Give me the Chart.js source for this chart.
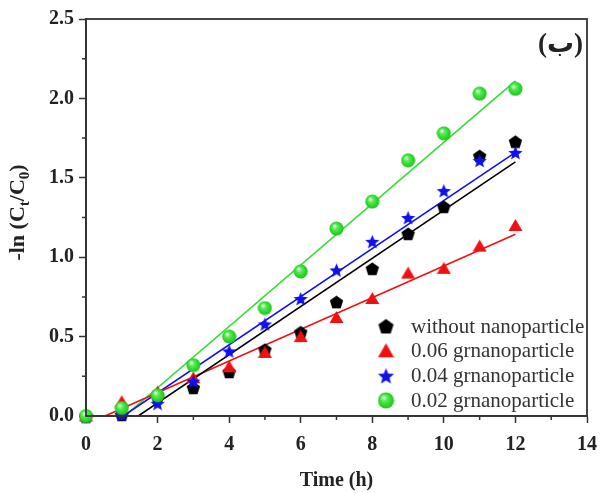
<!DOCTYPE html>
<html>
<head>
<meta charset="utf-8">
<script src="https://cdn.jsdelivr.net/npm/chart.js@4/dist/chart.umd.min.js"></script>
<style>
    html, body { margin: 0; padding: 0; background: #fff; }
    #kinetics { display: block; }
</style>
</head>
<body>
<canvas id="kinetics" width="603" height="493"></canvas>
<script>
// Time axis (h) and -ln(Ct/C0) for each run
const times = [0, 1, 2, 3, 4, 5, 6, 7, 8, 9, 10, 11, 12];
const withoutNano = [0, 0.01, 0.12, 0.18, 0.28, 0.42, 0.53, 0.72, 0.93, 1.15, 1.32, 1.64, 1.73];
const nano006 = [0, 0.09, 0.15, 0.24, 0.31, 0.40, 0.50, 0.62, 0.74, 0.90, 0.93, 1.07, 1.20];
const nano004 = [0, 0.01, 0.08, 0.22, 0.41, 0.58, 0.74, 0.92, 1.10, 1.25, 1.42, 1.61, 1.66];
const nano002 = [0, 0.05, 0.13, 0.32, 0.50, 0.68, 0.91, 1.18, 1.35, 1.61, 1.78, 2.03, 2.06];
const seriesLabels = ['without nanoparticle', '0.06 grnanoparticle', '0.04 grnanoparticle', '0.02 grnanoparticle'];

// Linear fits: where each line leaves y = 0, and its value at t = 12
const fitStartX = [1.46, 0.53, 1.04, 1.08];
const fitEndX = 12;
const fitEndY = [1.60, 1.145, 1.66, 2.11];

// Tick values
const xTickValues = [0, 2, 4, 6, 8, 10, 12, 14];
const xMinorTicks = [1, 3, 5, 7, 9, 11, 13];
const yTickValues = [0, 0.5, 1.0, 1.5, 2.0, 2.5];
const yMinorTicks = [0.25, 0.75, 1.25, 1.75, 2.25];

const AXIS = '#333';
const SERIF = "'Liberation Serif', 'Times New Roman', serif";

// Marker sprites, drawn once on small canvases
function makeMarker(kind, size) {
    const c = document.createElement('canvas');
    c.width = size; c.height = size;
    const g = c.getContext('2d');
    const m = size / 2;
    g.beginPath();
    if (kind === 'pentagon') {
        const r = size * 0.47;
        for (let i = 0; i < 5; i++) {
            const a = -Math.PI / 2 + i * 2 * Math.PI / 5;
            g.lineTo(m + r * Math.cos(a), m + 1 + r * Math.sin(a));
        }
        g.closePath();
        g.fillStyle = '#000';
        g.fill();
    } else if (kind === 'star') {
        const ro = size * 0.5, ri = size * 0.22;
        for (let i = 0; i < 10; i++) {
            const a = -Math.PI / 2 + i * Math.PI / 5;
            const r = i % 2 ? ri : ro;
            g.lineTo(m + r * Math.cos(a), m + 1 + r * Math.sin(a));
        }
        g.closePath();
        g.fillStyle = '#1010ee';
        g.fill();
    } else if (kind === 'triangle') {
        g.moveTo(m, 1);
        g.lineTo(size - 0.5, size - 2);
        g.lineTo(0.5, size - 2);
        g.closePath();
        g.fillStyle = '#f01010';
        g.fill();
    } else {
        const grad = g.createRadialGradient(m - size * 0.15, m - size * 0.18, 0.5, m, m, m);
        grad.addColorStop(0, '#f0fff0');
        grad.addColorStop(0.3, '#55f052');
        grad.addColorStop(1, '#14c014');
        g.arc(m, m, m - 0.5, 0, Math.PI * 2);
        g.fillStyle = grad;
        g.fill();
    }
    return c;
}

const markerKinds = ['pentagon', 'triangle', 'star', 'sphere'];
const plotMarkers = markerKinds.map(k => makeMarker(k, 15));
const legendMarkers = markerKinds.map(k => makeMarker(k, 17));
const lineColors = ['#000000', '#f01010', '#1010ee', '#33dd33'];
const seriesValues = [withoutNano, nano006, nano004, nano002];

const pointSets = seriesValues.map((vals, i) => ({
    type: 'scatter',
    label: seriesLabels[i],
    data: times.map((t, j) => ({ x: t, y: vals[j] })),
    pointStyle: plotMarkers[i],
    pointRadius: 8,
    clip: false,
    order: 4 - i
}));

const fitSets = fitStartX.map((x0, i) => ({
    type: 'line',
    label: 'fit ' + seriesLabels[i],
    data: [{ x: x0, y: 0 }, { x: fitEndX, y: fitEndY[i] }],
    borderColor: lineColors[i],
    borderWidth: 1.6,
    pointRadius: 0,
    fill: false,
    order: 10
}));

// Box frame, minor ticks, rotated y title with subscripts, legend and panel tag
const decorations = {
    id: 'decorations',
    afterDraw(chart) {
        const { ctx, chartArea: a, scales: { x, y } } = chart;
        ctx.save();
        ctx.strokeStyle = AXIS;
        ctx.lineWidth = 1.8;
        ctx.strokeRect(a.left, a.top, a.right - a.left, a.bottom - a.top);

        ctx.lineWidth = 1.5;
        ctx.beginPath();
        xMinorTicks.forEach(v => {
            const px = x.getPixelForValue(v);
            ctx.moveTo(px, a.bottom); ctx.lineTo(px, a.bottom + 4);
        });
        yMinorTicks.forEach(v => {
            const py = y.getPixelForValue(v);
            ctx.moveTo(a.left, py); ctx.lineTo(a.left - 4, py);
        });
        ctx.stroke();

        // -ln (Ct/C0)
        ctx.fillStyle = '#222';
        ctx.textBaseline = 'alphabetic';
        const big = 'bold 22px ' + SERIF, small = 'bold 15px ' + SERIF;
        const parts = [['-ln (C', big, 0], ['t', small, 5], ['/C', big, 0], ['0', small, 5], [')', big, 0]];
        let total = 0;
        parts.forEach(p => { ctx.font = p[1]; total += ctx.measureText(p[0]).width; });
        ctx.translate(24, (a.top + a.bottom) / 2 - 5);
        ctx.rotate(-Math.PI / 2);
        let cx = -total / 2;
        parts.forEach(p => {
            ctx.font = p[1];
            ctx.fillText(p[0], cx, p[2]);
            cx += ctx.measureText(p[0]).width;
        });
        ctx.setTransform(1, 0, 0, 1, 0, 0);

        // Legend inside the plot, lower right
        ctx.font = '21px ' + SERIF;
        ctx.fillStyle = '#333';
        ctx.textBaseline = 'middle';
        ctx.textAlign = 'left';
        seriesLabels.forEach((lbl, i) => {
            const ly = a.bottom - 90 + i * 24.8;
            const mk = legendMarkers[i];
            ctx.drawImage(mk, a.right - 201 - mk.width / 2, ly - mk.height / 2);
            ctx.fillText(lbl, a.right - 176, ly + 1);
        });

        // Panel tag
        ctx.font = 'bold 27px ' + SERIF + ", 'DejaVu Sans'";
        ctx.fillStyle = '#222';
        ctx.textAlign = 'right';
        ctx.fillText('(ب)', a.right - 4, a.top + 26);
        ctx.restore();
    }
};

new Chart(document.getElementById('kinetics'), {
    type: 'scatter',
    data: { datasets: [...pointSets, ...fitSets] },
    options: {
        responsive: false,
        animation: false,
        layout: { padding: { top: 19, right: 16, left: 0, bottom: 0 } },
        plugins: {
            legend: { display: false },
            tooltip: { enabled: false }
        },
        scales: {
            x: {
                type: 'linear',
                min: 0, max: 14,
                afterBuildTicks: s => { s.ticks = xTickValues.map(v => ({ value: v })); },
                afterFit: s => { s.height = 77; s.paddingLeft = 0; s.paddingRight = 0; },
                grid: { drawOnChartArea: false, drawTicks: true, tickLength: 7, tickColor: AXIS, tickWidth: 1.5 },
                border: { color: AXIS, width: 1.8 },
                ticks: {
                    padding: 10,
                    color: '#222',
                    font: { family: SERIF, size: 20, weight: 'bold' },
                    callback: v => String(v)
                },
                title: {
                    display: true,
                    text: 'Time (h)',
                    color: '#222',
                    font: { family: SERIF, size: 20, weight: 'bold' },
                    padding: { top: 4, bottom: 0 }
                }
            },
            y: {
                type: 'linear',
                min: 0, max: 2.5,
                afterBuildTicks: s => { s.ticks = yTickValues.map(v => ({ value: v })); },
                afterFit: s => { s.width = 86; },
                grid: { drawOnChartArea: false, drawTicks: true, tickLength: 7, tickColor: AXIS, tickWidth: 1.5 },
                border: { color: AXIS, width: 1.8 },
                ticks: {
                    padding: 5,
                    color: '#222',
                    font: { family: SERIF, size: 20, weight: 'bold' },
                    callback: v => Number(v).toFixed(1)
                }
            }
        }
    },
    plugins: [decorations]
});
</script>
</body>
</html>
